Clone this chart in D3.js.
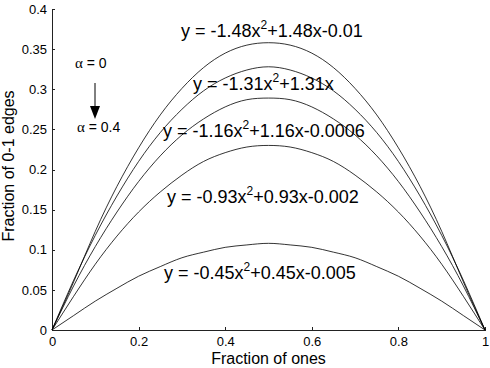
<!DOCTYPE html>
<html>
<head>
<meta charset="utf-8">
<script src="https://cdn.jsdelivr.net/npm/d3@7"></script>
<style>
  body { margin: 0; background: #fff; }
  svg { display: block; font-family: 'Liberation Sans', Arial, sans-serif; }
  .curve { fill: none; stroke: #000; stroke-width: 0.8; }
  .axis path, .axis line { stroke: #222; shape-rendering: crispEdges; }
  .axis text { font-size: 13px; fill: #000; }
  .fit { font-size: 18px; fill: #000; }
</style>
</head>
<body>
<script>
// fraction of ones (x) and fraction of 0-1 edges for each alpha
const fracOnes = [0, 0.05, 0.1, 0.15, 0.2, 0.25, 0.3, 0.35, 0.4, 0.45, 0.5,
  0.55, 0.6, 0.65, 0.7, 0.75, 0.8, 0.85, 0.9, 0.95, 1]

const edges0 = [0, 0.060, 0.123, 0.179, 0.227, 0.268, 0.301, 0.327, 0.345, 0.355, 0.358,
  0.355, 0.345, 0.327, 0.301, 0.268, 0.227, 0.179, 0.123, 0.060, 0]
const edges1 = [0, 0.062, 0.118, 0.167, 0.210, 0.246, 0.275, 0.298, 0.314, 0.324, 0.328,
  0.324, 0.314, 0.298, 0.275, 0.246, 0.210, 0.167, 0.118, 0.062, 0]
const edges2 = [0, 0.055, 0.104, 0.147, 0.185, 0.217, 0.243, 0.263, 0.278, 0.287, 0.289,
  0.287, 0.278, 0.263, 0.243, 0.217, 0.185, 0.147, 0.104, 0.055, 0]
const edges3 = [0, 0.042, 0.082, 0.117, 0.147, 0.172, 0.193, 0.210, 0.221, 0.228, 0.230,
  0.228, 0.221, 0.210, 0.193, 0.172, 0.147, 0.117, 0.082, 0.042, 0]
const edges4 = [0, 0.018, 0.036, 0.052, 0.067, 0.079, 0.090, 0.097, 0.103, 0.106, 0.108,
  0.106, 0.103, 0.097, 0.090, 0.079, 0.067, 0.052, 0.036, 0.018, 0]

const series = [edges0, edges1, edges2, edges3, edges4]

// fitted equations, split around the superscript
const fitLabels = [
  ['-1.48', '+1.48x-0.01'],
  ['-1.31', '+1.31x'],
  ['-1.16', '+1.16x-0.0006'],
  ['-0.93', '+0.93x-0.002'],
  ['-0.45', '+0.45x-0.005']
]
const fitPos = [[181, 37], [193, 90], [163, 137], [167, 203], [164, 279]]

const xTicks = [0, 0.2, 0.4, 0.6, 0.8, 1]
const yTicks = [0, 0.05, 0.1, 0.15, 0.2, 0.25, 0.3, 0.35, 0.4]

const width = 490
const height = 368
const margin = { top: 9, right: 5, bottom: 38, left: 52 }

const svg = d3.select('body')
  .append('svg')
  .attr('width', width)
  .attr('height', height)

const x = d3.scaleLinear()
  .domain([0, 1])
  .range([margin.left, width - margin.right])

const y = d3.scaleLinear()
  .domain([0, 0.4])
  .range([height - margin.bottom, margin.top])

// axes, ticks pointing inward
svg.append('g')
  .attr('class', 'axis')
  .attr('transform', `translate(0,${height - margin.bottom})`)
  .call(d3.axisBottom(x).tickValues(xTicks).tickSizeInner(-3).tickSizeOuter(0)
    .tickPadding(7).tickFormat(d3.format('')))

svg.append('g')
  .attr('class', 'axis')
  .attr('transform', `translate(${margin.left},0)`)
  .call(d3.axisLeft(y).tickValues(yTicks).tickSizeInner(-3).tickSizeOuter(0)
    .tickPadding(5).tickFormat(d3.format('')))

// curves
const line = d3.line()
  .x((d, i) => x(fracOnes[i]))
  .y(d => y(d))
  .curve(d3.curveNatural)

svg.append('g')
  .selectAll('path')
  .data(series)
  .enter()
  .append('path')
  .attr('class', 'curve')
  .attr('d', d => line(d))

// equation labels
const fits = svg.append('g')
  .selectAll('text')
  .data(fitLabels)
  .enter()
  .append('text')
  .attr('class', 'fit')
  .attr('x', (d, i) => fitPos[i][0])
  .attr('y', (d, i) => fitPos[i][1])

fits.append('tspan').text(d => 'y = ' + d[0] + 'x')
fits.append('tspan').attr('dy', -8).attr('font-size', 12).text('2')
fits.append('tspan').attr('dy', 8).text(d => d[1])

// alpha annotation
const note = svg.append('g').attr('font-size', 14)

note.append('text')
  .attr('x', 75).attr('y', 68)
  .html('<tspan font-family="Liberation Serif" font-size="15">α</tspan> = 0')

note.append('text')
  .attr('x', 77).attr('y', 132)
  .html('<tspan font-family="Liberation Serif" font-size="15">α</tspan> = 0.4')

note.append('line')
  .attr('x1', 95).attr('x2', 95)
  .attr('y1', 83).attr('y2', 110)
  .attr('stroke', '#000')

note.append('path')
  .attr('d', 'M90,106 L100,106 L95,119 Z')
  .attr('fill', '#000')

// axis titles
svg.append('text')
  .attr('x', (margin.left + width - margin.right) / 2)
  .attr('y', 364)
  .attr('text-anchor', 'middle')
  .attr('font-size', 16)
  .text('Fraction of ones')

svg.append('text')
  .attr('transform', 'translate(14,166) rotate(-90)')
  .attr('text-anchor', 'middle')
  .attr('font-size', 16)
  .text('Fraction of 0-1 edges')
</script>
</body>
</html>
